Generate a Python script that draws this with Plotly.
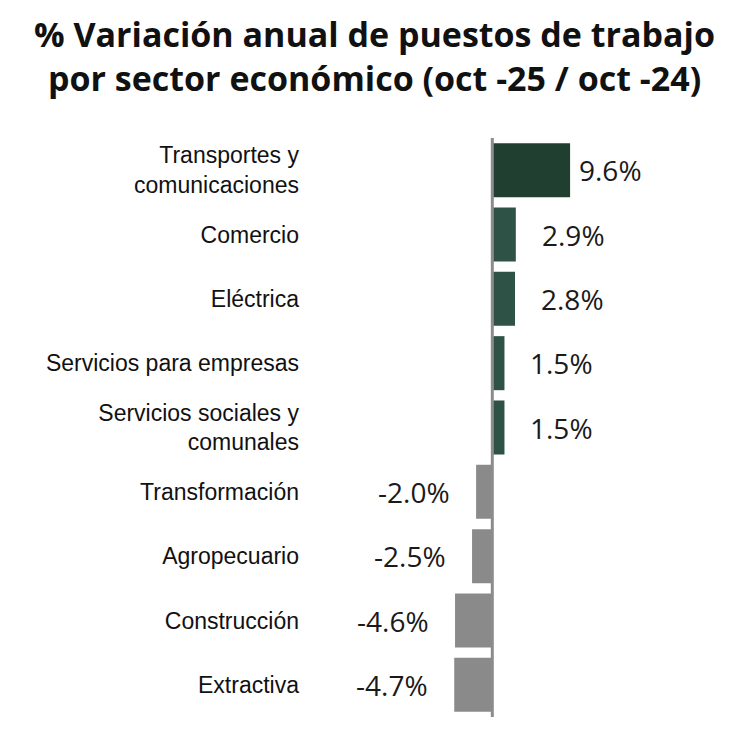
import plotly.graph_objects as go

# data
sectores = [
    "Transportes y<br>comunicaciones",
    "Comercio",
    "Eléctrica",
    "Servicios para empresas",
    "Servicios sociales y<br>comunales",
    "Transformación",
    "Agropecuario",
    "Construcción",
    "Extractiva",
]
variacion = [9.6, 2.9, 2.8, 1.5, 1.5, -2.0, -2.5, -4.6, -4.7]
etiquetas = ["9.6%", "2.9%", "2.8%", "1.5%", "1.5%", "-2.0%", "-2.5%", "-4.6%", "-4.7%"]

titulo_1 = "% Variación anual de puestos de trabajo"
titulo_2 = "por sector económico (oct -25 / oct -24)"

verde_oscuro = "#213f31"
verde = "#2e5246"
gris = "#8a8a8a"

colores = []
for i, v in enumerate(variacion):
    if v < 0:
        colores.append(gris)
    elif i == 0:
        colores.append(verde_oscuro)
    else:
        colores.append(verde)

fig = go.Figure()
fig.add_trace(go.Bar(
    x=variacion,
    y=sectores,
    orientation="h",
    marker=dict(color=colores, line=dict(width=0)),
    hoverinfo="skip",
))

# value labels sit a bit away from bar ends
for i, (v, s, t) in enumerate(zip(variacion, sectores, etiquetas)):
    shift = 7 if i == 0 else 24
    fig.add_annotation(
        x=v, y=s, text=t, showarrow=False,
        xanchor="left" if v > 0 else "right",
        xshift=shift if v > 0 else -shift,
        font=dict(family="Open Sans", size=28, color="#1a1a1a"),
    )

# title, two lines
for txt, yy in [(titulo_1, 1.18), (titulo_2, 1.104)]:
    fig.add_annotation(
        x=0.1585, y=yy, xref="paper", yref="paper", text="<b>" + txt + "</b>",
        showarrow=False, xanchor="center", yanchor="middle", borderpad=0,
        font=dict(family="Open Sans", size=34, color="#111111"),
    )

# vertical zero line
fig.add_shape(type="line", x0=0, x1=0, y0=0, y1=1, xref="x", yref="paper",
              line=dict(color="#8c8c8c", width=3))

fig.update_layout(
    width=750, height=730,
    paper_bgcolor="white", plot_bgcolor="white",
    margin=dict(l=302, r=38, t=130, b=21),
    bargap=0.16,
    showlegend=False,
    xaxis=dict(range=[-22.5, 28.1], visible=False, fixedrange=True),
    yaxis=dict(
        autorange="reversed", automargin=False,
        showgrid=False, zeroline=False, showline=False,
        ticks="", ticklabelstandoff=10,
        tickfont=dict(family="Liberation Sans Narrow, Arial Narrow, Liberation Sans", size=23, color="#111111"),
    ),
)

fig.write_html("out.html")
